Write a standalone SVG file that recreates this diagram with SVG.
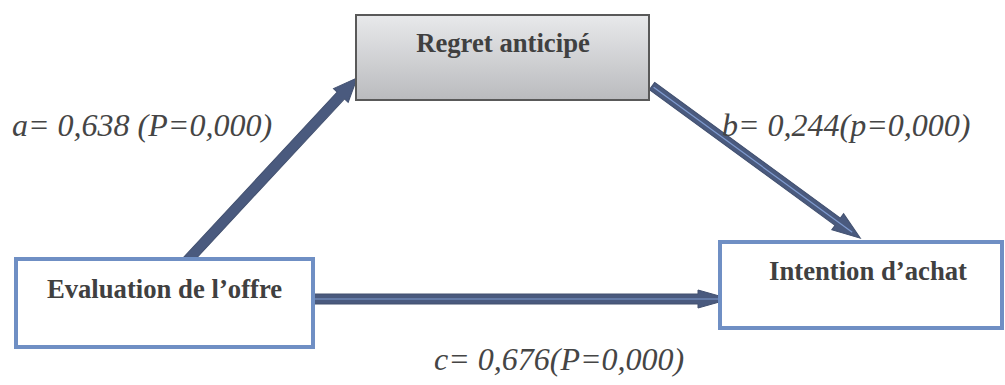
<svg xmlns="http://www.w3.org/2000/svg" width="1005" height="385" viewBox="0 0 1005 385">
<defs>
<linearGradient id="gr" x1="0" y1="0" x2="0" y2="1">
<stop offset="0" stop-color="#e8e9eb"/>
<stop offset="1" stop-color="#babbbe"/>
</linearGradient>
<style>
.box{fill:#fff;stroke:#6f8fc4;stroke-width:4}
.node{font-family:"Liberation Serif","Times New Roman",serif;font-weight:bold;font-size:26.7px;fill:#404040;text-anchor:middle}
.lbl{font-family:"Liberation Serif","Times New Roman",serif;font-style:italic;font-size:32px;fill:#454545}
.arr{fill:#4a5a7e;stroke:#42506f;stroke-width:1}
.mid{stroke:#7f9bd0;stroke-width:1.2;fill:none}
</style>
</defs>
<g id="connectors">
<g transform="translate(187,261) rotate(-47.1)">
<path class="arr" d="M0,-5 H226 V-10 L250,0 L226,10 V5 H0 Z"/>
</g>
<g transform="translate(652,86) rotate(36.16)">
<path class="arr" d="M0,-4.5 H230 V-10 L258,0 L230,10 V4.5 H0 Z"/>
<path class="mid" d="M2,0 H248"/>
</g>
<g transform="translate(308,299)">
<path class="arr" d="M0,-5 H390 V-9 L422,0 L390,9 V5 H0 Z"/>
<path class="mid" d="M2,0 H410"/>
</g>
</g>
<g id="regret">
<rect x="356" y="15" width="293" height="85" fill="url(#gr)" stroke="#595959" stroke-width="2"/>
<text class="node" x="503" y="52">Regret anticipé</text>
</g>
<g id="evaluation">
<rect class="box" x="16" y="259" width="297" height="88"/>
<text class="node" x="164.5" y="298">Evaluation de l’offre</text>
</g>
<g id="intention">
<rect class="box" x="720" y="242" width="282" height="86"/>
<text class="node" x="868" y="280">Intention d’achat</text>
</g>
<g id="labels">
<text class="lbl" x="12" y="136">a= 0,638 (P=0,000)</text>
<text class="lbl" x="722" y="136">b= 0,244(p=0,000)</text>
<text class="lbl" x="434" y="370">c= 0,676(P=0,000)</text>
</g>
</svg>
